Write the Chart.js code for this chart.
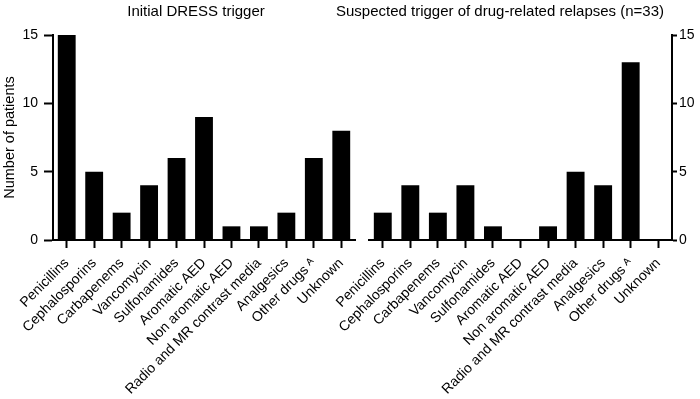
<!DOCTYPE html>
<html>
<head>
    <title>DRESS triggers</title>
    <meta charset="utf-8" />
    <script src="https://cdn.jsdelivr.net/npm/chart.js@4.4.0/dist/chart.umd.min.js"></script>
    <style>
        body { margin: 0; background: #fff; }
        .wrap { position: relative; width: 700px; height: 399px; }
        .wrap canvas { position: absolute; left: 0; top: 0; }
    </style>
</head>
<body>
<div class="wrap">
    <canvas id="initialChart" width="700" height="399"></canvas>
    <canvas id="relapseChart" width="700" height="399"></canvas>
</div>
<script>
// data
var drugClasses = ['Penicillins', 'Cephalosporins', 'Carbapenems', 'Vancomycin', 'Sulfonamides',
    'Aromatic AED', 'Non aromatic AED', 'Radio and MR contrast media', 'Analgesics', 'Other drugs \u1D2C', 'Unknown'];
var initialCounts = [15, 5, 2, 4, 6, 9, 1, 1, 2, 6, 8];
var relapseCounts = [2, 4, 2, 4, 1, 0, 1, 5, 4, 13, 0];
var initialTitle = 'Initial DRESS trigger';
var relapseTitle = 'Suspected trigger of drug-related relapses (n=33)';
var yAxisTitle = 'Number of patients';

var fontFamily = '"Liberation Sans", Arial, sans-serif';
Chart.defaults.font.family = fontFamily;
Chart.defaults.color = '#000';

// panel title drawn above each plot
var panelTitle = {
    id: 'panelTitle',
    afterDraw: function(chart, args, opts) {
        var ctx = chart.ctx;
        ctx.save();
        ctx.font = '15px ' + fontFamily;
        ctx.fillStyle = '#000';
        ctx.textAlign = 'center';
        ctx.fillText(opts.text, opts.x, 16);
        ctx.restore();
    }
};

function xAxis() {
    return {
        offset: true,
        ticks: { autoSkip: false, minRotation: 45, maxRotation: 45, color: '#000', font: { size: 14 }, padding: 7 },
        grid: { offset: false, drawOnChartArea: false, tickLength: 8, tickWidth: 2, tickColor: '#000' },
        border: { color: '#000', width: 2 },
        afterFit: function(s) { s.height = 159; }
    };
}

function yAxis(pos, w, tickLen, pad, showTitle) {
    return {
        position: pos,
        min: 0,
        max: 15,
        ticks: { stepSize: 5, color: '#000', font: { size: 14 }, padding: pad },
        grid: { drawOnChartArea: false, tickLength: tickLen, tickWidth: 2, tickColor: '#000' },
        border: { color: '#000', width: 2 },
        title: { display: showTitle, text: yAxisTitle, color: '#000', font: { size: 14.5 }, padding: { top: 1, bottom: 0 } },
        afterFit: function(s) { s.width = w; }
    };
}

function makeChart(id, values, title, titleX, pad, yScale) {
    return new Chart(id, {
        type: 'bar',
        data: {
            labels: drugClasses,
            datasets: [{
                data: values,
                backgroundColor: '#000',
                borderWidth: 0,
                categoryPercentage: 1,
                barPercentage: 0.65
            }]
        },
        options: {
            responsive: false,
            animation: false,
            devicePixelRatio: 1,
            layout: { padding: pad },
            plugins: {
                legend: { display: false },
                tooltip: { enabled: false },
                panelTitle: { text: title, x: titleX }
            },
            scales: {
                x: xAxis(),
                y: yScale
            }
        },
        plugins: [panelTitle]
    });
}

var initialChart = makeChart('initialChart', initialCounts, initialTitle, 196,
    { top: 35, right: 345, left: 0, bottom: 0 }, yAxis('left', 53, 9, 6, true));
var relapseChart = makeChart('relapseChart', relapseCounts, relapseTitle, 500,
    { top: 35, right: 0, left: 369, bottom: 0 }, yAxis('right', 28, 5, 2, false));
</script>
</body>
</html>
